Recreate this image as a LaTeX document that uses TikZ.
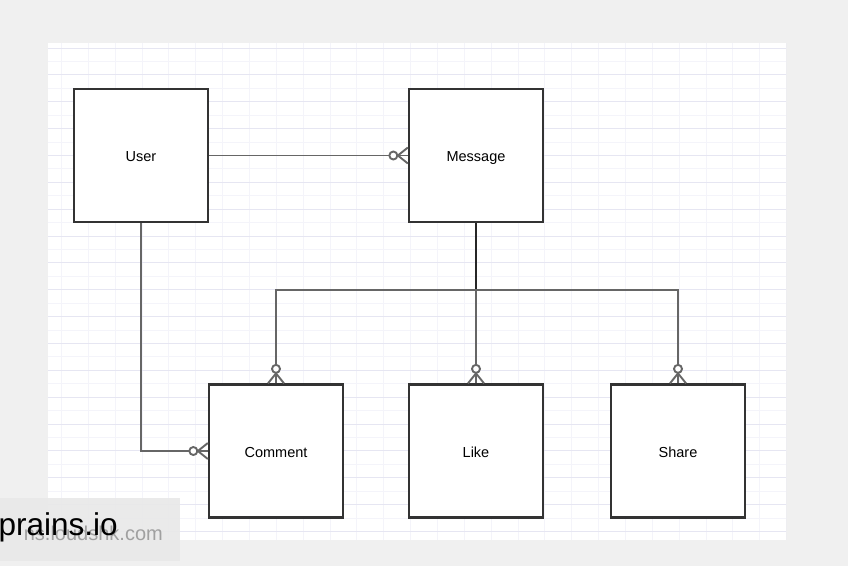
\documentclass[tikz,border=0pt]{standalone}
\usepackage{fontspec}
\setmainfont{Liberation Sans}
\usetikzlibrary{calc}
\definecolor{bgc}{HTML}{F0F0F0}
\definecolor{gridc}{HTML}{E6E6F2}
\definecolor{gridd}{HTML}{F4F4FA}
\definecolor{boxc}{HTML}{333333}
\definecolor{linec}{HTML}{666666}
\definecolor{wmbox}{HTML}{E9E9E9}
\definecolor{wmgray}{HTML}{A0A0A0}
\tikzset{
  box/.style={draw=boxc, line width=2.3pt, fill=white, minimum width=134pt, minimum height=133pt, inner sep=0pt, text height=12pt, text depth=0pt, font=\fontsize{14.5}{16}\selectfont},
  conn/.style={draw=linec, line width=1.9pt},
  thickconn/.style={draw=black!85, line width=2.8pt},
  crow/.pic={
    \draw[conn] (-10,0) -- (0,-8);
    \draw[conn] (-10,0) -- (0,8);
    \draw[conn] (-10,0) -- (0,0);
    \draw[conn, fill=white] (-14.5,0) circle (4pt);
  }
}
\begin{document}
\begin{tikzpicture}[x=1pt,y=-1pt]
\useasboundingbox (0,0) rectangle (848,566);
\fill[bgc] (0,0) rectangle (848,566);
\fill[white] (48,43) rectangle (786,540);
\begin{scope}
\clip (48,43) rectangle (786,540);
\foreach \i in {0,...,27} {
  \draw[gridd, line width=0.9pt] ({61.4+26.86*\i},43) -- ({61.4+26.86*\i},540);
  \draw[gridc, line width=1pt] ({88.3+26.86*\i},43) -- ({88.3+26.86*\i},540);
}
\foreach \j in {0,...,19} {
  \draw[gridd, line width=0.9pt] (48,{48+26.86*\j+13.43}) -- (786,{48+26.86*\j+13.43});
  \draw[gridc, line width=1pt] (48,{48+26.86*\j}) -- (786,{48+26.86*\j});
}
\end{scope}

\node[box] (user) at (141,155.5) {User};
\node[box] (msg) at (476,155.5) {Message};
\node[box] (comment) at (276,451) {Comment};
\node[box] (like) at (476,451) {Like};
\node[box] (share) at (678,451) {Share};

\coordinate (j) at (476,290);

\draw[conn] (user.east) -- (msg.west);
\pic at (msg.west) {crow};

\draw[conn] (user.south) |- (comment.west);
\pic at (comment.west) {crow};

\draw[thickconn] (msg.south) -- (j);
\draw[conn] (comment.north) -- (comment.north |- j) -- (share.north |- j) -- (share.north);
\draw[conn] (j) -- (like.north);
\pic[rotate=-90] at (comment.north) {crow};
\pic[rotate=-90] at (like.north) {crow};
\pic[rotate=-90] at (share.north) {crow};

\fill[wmbox, opacity=0.92] (0,498) rectangle (180,561);
\node[anchor=base east, text=wmgray, inner sep=0pt, font=\fontsize{20}{22}\selectfont] (wm2) at (163,540) {ns.loudshk.com};
\node[anchor=base west, text=black, inner sep=0pt, font=\fontsize{31.5}{33}\selectfont] (wm1) at (-1.5,535) {prains.io};
\end{tikzpicture}
\end{document}
